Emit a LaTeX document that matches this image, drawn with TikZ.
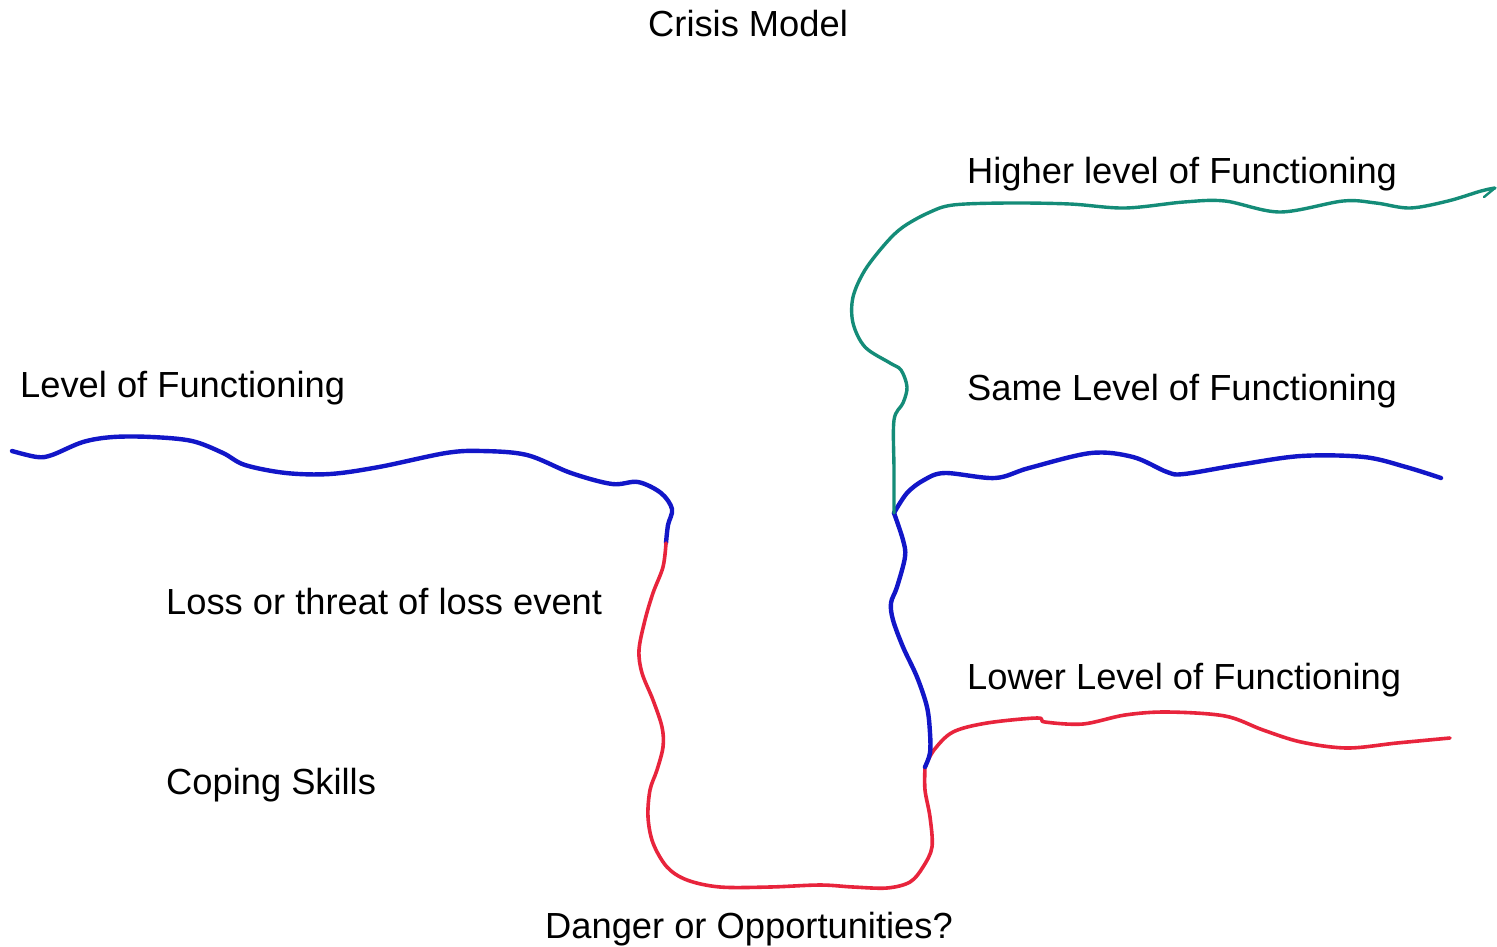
\documentclass[tikz,border=0pt]{standalone}
\usepackage{fontspec}
\setmainfont{Liberation Sans}
\definecolor{penblue}{RGB}{18,22,200}
\definecolor{penred}{RGB}{232,36,60}
\definecolor{pengreen}{RGB}{20,140,120}
\tikzset{
  label/.style={anchor=base west, inner sep=0pt, font=\fontsize{36.3}{40}\selectfont, text=black},
  bluepen/.style={draw=penblue, line width=4.4pt, line cap=round, line join=round},
  redpen/.style={draw=penred, line width=3.6pt, line cap=round, line join=round},
  greenpen/.style={draw=pengreen, line width=3.4pt, line cap=round, line join=round},
}
\begin{document}
\begin{tikzpicture}[x=1pt, y=-1pt]
\useasboundingbox[fill=white] (0,0) rectangle (1497,946);

% labels
\node[label] (title)   at (648,36)  {Crisis Model};
\node[label] (higher)  at (967,183) {Higher level of Functioning};
\node[label] (level)   at (20,397)  {Level of Functioning};
\node[label] (same)    at (967,400) {Same Level of Functioning};
\node[label] (loss)    at (166,614) {Loss or threat of loss event};
\node[label] (lower)   at (967,689) {Lower Level of Functioning};
\node[label] (coping)  at (166,794) {Coping Skills};
\node[label] (danger)  at (545,938) {Danger or Opportunities?};

% junctions where the pen changes
\coordinate (drop)     at (666,543);
\coordinate (split)    at (894,513);
\coordinate (lowsplit) at (925,767);
\coordinate (higherend) at (1495,188);

% starting level of functioning
\draw[bluepen] plot[smooth, tension=0.55] coordinates {
  (12,451) (37,457) (52,455) (83,442) (113,437) (152,437) (192,441) (223,453)
  (245,465) (286,473) (330,474) (379,467) (446,453) (482,451) (527,455)
  (571,473) (612,484) (638,482) (661,493) (672,509) (668,525) (drop)};

% crisis: down to the bottom and back up
\draw[redpen] plot[smooth, tension=0.55] coordinates {
  (drop) (663,567) (653,593) (645,620) (639,650) (642,673) (653,700) (662,727)
  (663,747) (657,770) (650,790) (648,817) (653,843) (667,867) (687,880)
  (720,887) (770,887) (820,885) (853,887) (887,888) (910,882) (923,867)
  (932,847) (930,817) (925,790) (lowsplit)};

% lower level of functioning
\draw[redpen] plot[smooth, tension=0.55] coordinates {
  (lowsplit) (934,750) (953,732) (987,723) (1037,718) (1045,722) (1083,724)
  (1125,715) (1167,712) (1225,716) (1263,730) (1301,742) (1347,748)
  (1397,743) (1450,738)};

% recovery to the same level
\draw[bluepen] plot[smooth, tension=0.55] coordinates {
  (lowsplit) (930,753) (930,733) (927,707) (917,677) (903,647) (893,620)
  (891,603) (897,587) (905,557) (903,540) (split)};
\draw[bluepen] plot[smooth, tension=0.55] coordinates {
  (split) (907,493) (924,480) (945,473) (995,478) (1029,468) (1091,453)
  (1133,457) (1167,472) (1184,474) (1238,465) (1301,456) (1364,457)
  (1406,467) (1441,478)};

% growth to a higher level
\draw[greenpen] plot[smooth, tension=0.55] coordinates {
  (split) (894,470) (894,420) (903,403) (907,387) (901,370) (890,363)
  (865,347) (853,323) (853,297) (865,270) (886,243) (903,227) (928,213)
  (953,205) (1008,203) (1070,204) (1125,208) (1184,202) (1225,201)
  (1280,212) (1343,201) (1376,203) (1410,208) (1448,201) (1481,191)
  (higherend)};
\draw[greenpen, line width=2.4pt] (higherend) -- (1484,197);
\end{tikzpicture}
\end{document}
